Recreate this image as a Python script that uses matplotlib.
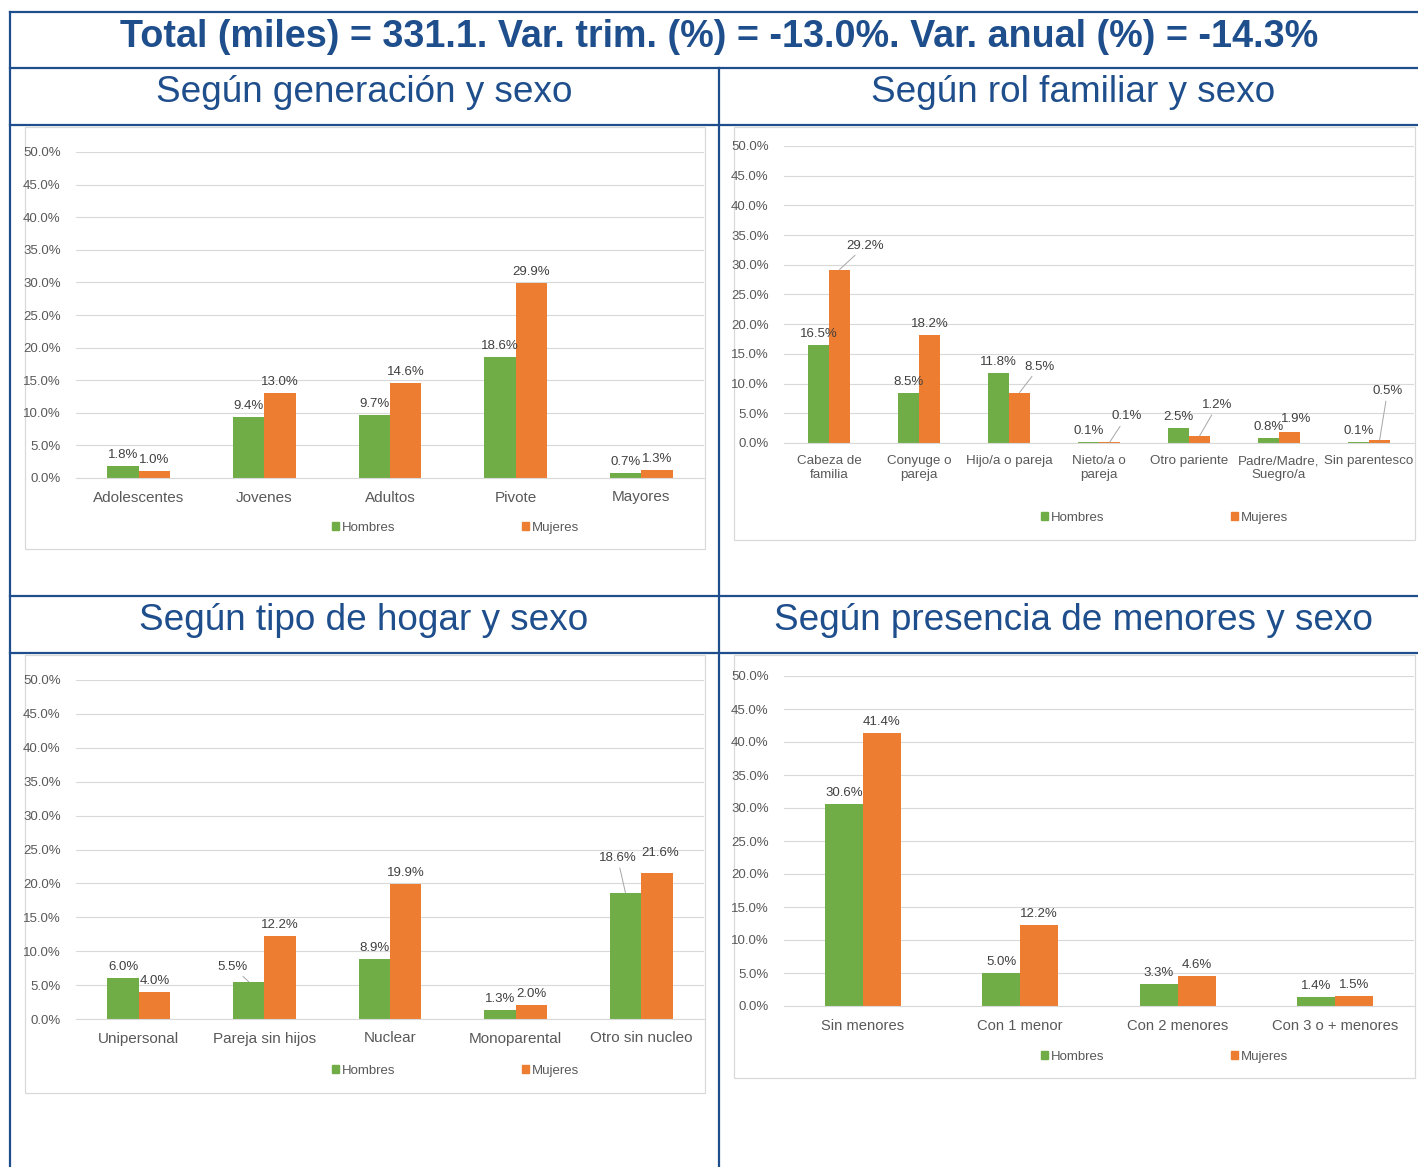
import matplotlib
matplotlib.use('Agg')
import matplotlib.pyplot as plt
from matplotlib.lines import Line2D
from matplotlib.patches import Rectangle, Patch
from matplotlib.ticker import MultipleLocator, FuncFormatter

plt.rcParams['font.family'] = ['Liberation Sans', 'DejaVu Sans']

W, H = 1418, 1167
BLUE = '#1F4E8C'
GREEN = '#70AD47'
ORANGE = '#ED7D31'
TXT = '#595959'

title = "Total (miles) = 331.1. Var. trim. (%) = -13.0%. Var. anual (%) = -14.3%"
series = ['Hombres', 'Mujeres']

gen_title = 'Según generación y sexo'
gen_cats = ['Adolescentes', 'Jovenes', 'Adultos', 'Pivote', 'Mayores']
gen_hombres = [1.8, 9.4, 9.7, 18.6, 0.7]
gen_mujeres = [1.0, 13.0, 14.6, 29.9, 1.3]

rol_title = 'Según rol familiar y sexo'
rol_cats = ['Cabeza de\nfamilia', 'Conyuge o\npareja', 'Hijo/a o pareja', 'Nieto/a o\npareja',
            'Otro pariente', 'Padre/Madre,\nSuegro/a', 'Sin parentesco']
rol_hombres = [16.5, 8.5, 11.8, 0.1, 2.5, 0.8, 0.1]
rol_mujeres = [29.2, 18.2, 8.5, 0.1, 1.2, 1.9, 0.5]

hogar_title = 'Según tipo de hogar y sexo'
hogar_cats = ['Unipersonal', 'Pareja sin hijos', 'Nuclear', 'Monoparental', 'Otro sin nucleo']
hogar_hombres = [6.0, 5.5, 8.9, 1.3, 18.6]
hogar_mujeres = [4.0, 12.2, 19.9, 2.0, 21.6]

men_title = 'Según presencia de menores y sexo'
men_cats = ['Sin menores', 'Con 1 menor', 'Con 2 menores', 'Con 3 o + menores']
men_hombres = [30.6, 5.0, 3.3, 1.4]
men_mujeres = [41.4, 12.2, 4.6, 1.5]


def fx(x):
    return x / W


def fy(y):
    return 1 - y / H


def hline(y, x0=10, x1=1418):
    fig.add_artist(Line2D([fx(x0), fx(x1)], [fy(y), fy(y)], color=BLUE, lw=1.6))


def vline(x, y0, y1=1167):
    fig.add_artist(Line2D([fx(x), fx(x)], [fy(y0), fy(y1)], color=BLUE, lw=1.6))


def bar_chart(box, area, cats, hom, muj, width, cat_size, legend_xy, moved={}, lsp=1.0):
    # light grey frame around the pasted excel chart
    bx0, by0, bx1, by1 = box
    fig.add_artist(Rectangle((fx(bx0), fy(by1)), fx(bx1 - bx0), (by1 - by0) / H,
                             transform=fig.transFigure, facecolor='white',
                             edgecolor='#D9D9D9', lw=0.9, zorder=-1))
    x0, y0, x1, y1 = area
    ax = fig.add_axes([fx(x0), fy(y1), fx(x1 - x0), (y1 - y0) / H])
    ax.set_facecolor('none')
    idx = list(range(len(cats)))
    bh = ax.bar([i - width / 2 for i in idx], hom, width, color=GREEN, zorder=2)
    bm = ax.bar([i + width / 2 for i in idx], muj, width, color=ORANGE, zorder=2)
    ax.set_xlim(-0.5, len(cats) - 0.5)
    ax.set_ylim(0, 50)
    ax.yaxis.set_major_locator(MultipleLocator(5))
    ax.yaxis.set_major_formatter(FuncFormatter(lambda v, p: f'{v:.1f}%'))
    ax.grid(axis='y', color='#D9D9D9', lw=0.8, zorder=0)
    for s in ['top', 'right', 'left']:
        ax.spines[s].set_visible(False)
    ax.spines['bottom'].set_color('#D9D9D9')
    ax.set_xticks(idx)
    ax.set_xticklabels(cats, fontsize=cat_size, color=TXT, linespacing=lsp)
    ax.tick_params(axis='x', length=0, pad=9)
    ax.tick_params(axis='y', length=0, pad=11, labelsize=9.5, labelcolor=TXT)
    for key, bars, vals in (('H', bh, hom), ('M', bm, muj)):
        for i, (b, v) in enumerate(zip(bars, vals)):
            xc = b.get_x() + b.get_width() / 2
            off = moved.get((key, i))
            if off is None:
                ax.annotate(f'{v:.1f}%', (xc, v), xytext=(0, 5), textcoords='offset pixels',
                            ha='center', va='bottom', fontsize=9.5, color='#404040')
            else:
                dx, dy, leader = off
                ax.annotate(f'{v:.1f}%', (xc, v), xytext=(dx, dy), textcoords='offset pixels',
                            ha='center', va='bottom', fontsize=9.5, color='#404040',
                            arrowprops=dict(arrowstyle='-', color='#A6A6A6', lw=0.7,
                                            shrinkA=1, shrinkB=0) if leader else None)
    lx, ly = legend_xy
    handles = [Patch(color=GREEN), Patch(color=ORANGE)]
    fig.legend(handles, series, loc='center left', bbox_to_anchor=(fx(lx), fy(ly)),
               frameon=False, borderpad=0, borderaxespad=0, handlelength=0.55,
               handleheight=0.55, handletextpad=0.2, columnspacing=9.6, ncol=2,
               fontsize=9.5, labelcolor=TXT)
    return ax


fig = plt.figure(figsize=(W / 100, H / 100), dpi=100)

# table grid
hline(12)
hline(68)
hline(125)
hline(596)
hline(653)
vline(10, 12)
vline(719, 68)

fig.text(fx(719), fy(37), title, ha='center', va='center', fontsize=27.2,
         fontweight='bold', color=BLUE)
fig.text(fx(364), fy(93), gen_title, ha='center', va='center', fontsize=26.6, color=BLUE)
fig.text(fx(1073), fy(93), rol_title, ha='center', va='center', fontsize=26.6, color=BLUE)
fig.text(fx(364), fy(620), hogar_title, ha='center', va='center', fontsize=26.6, color=BLUE)
fig.text(fx(1074), fy(620), men_title, ha='center', va='center', fontsize=26.6, color=BLUE)

bar_chart((25, 127, 705, 549), (76, 152, 704, 478), gen_cats, gen_hombres, gen_mujeres,
          0.25, 11, (332, 528))

bar_chart((734, 127, 1415, 540), (784, 146, 1414, 443), rol_cats, rol_hombres, rol_mujeres,
          0.235, 9.6, (1041, 518), lsp=1.2,
          moved={('M', 0): (26, 18, True), ('M', 2): (20, 20, True), ('M', 3): (17, 20, True),
                 ('M', 4): (18, 25, True), ('M', 5): (7, 7, False), ('M', 6): (8, 43, True)})

bar_chart((25, 655, 705, 1093), (76, 680, 704, 1019), hogar_cats, hogar_hombres, hogar_mujeres,
          0.25, 11, (332, 1071),
          moved={('H', 1): (-16, 9, True), ('H', 4): (-8, 29, True), ('M', 4): (3, 14, False)})

bar_chart((734, 655, 1415, 1078), (784, 676, 1414, 1006), men_cats, men_hombres, men_mujeres,
          0.24, 10.6, (1041, 1057))

fig.savefig('out.png', dpi=100)
